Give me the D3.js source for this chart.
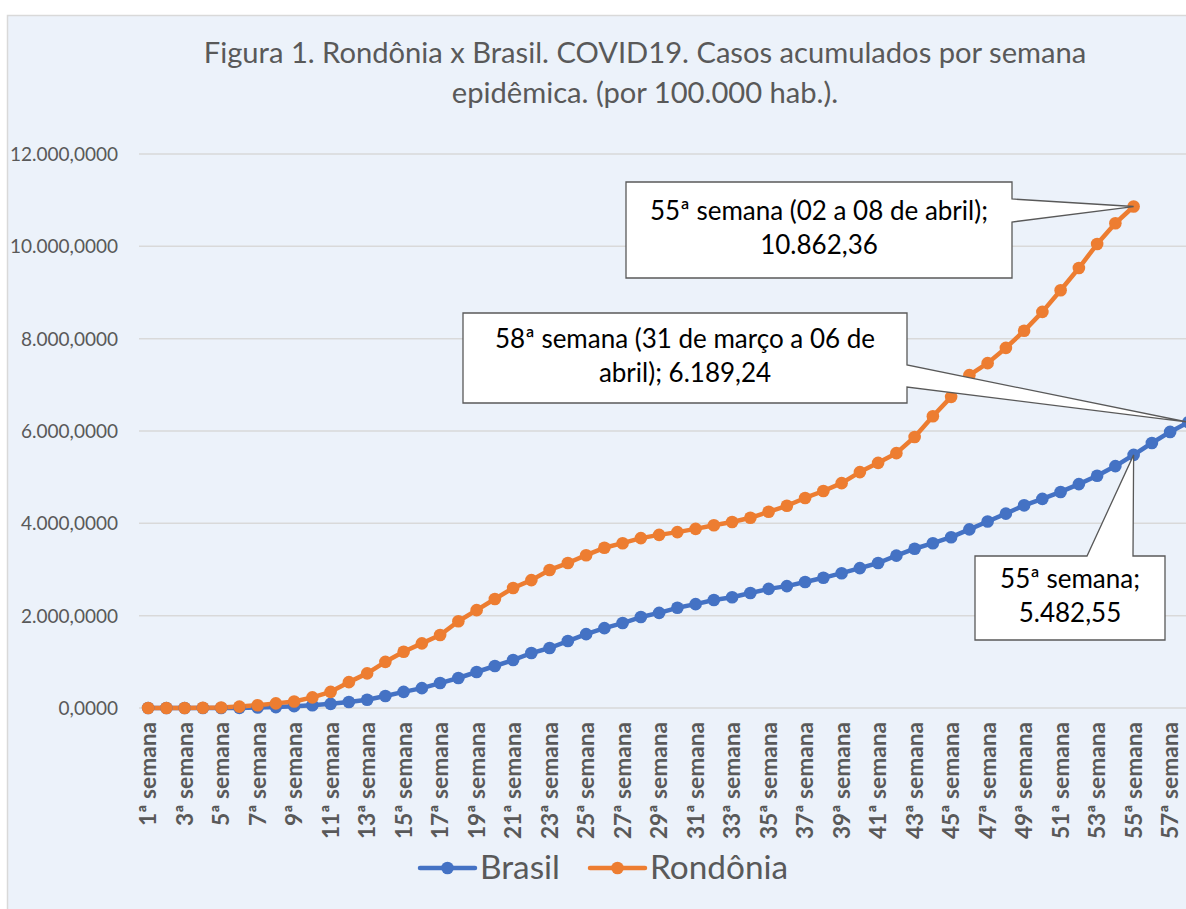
<!DOCTYPE html>
<html><head><meta charset="utf-8">
<script src="https://cdn.jsdelivr.net/npm/d3@7"></script>
<style>html,body{margin:0;padding:0;background:#fff;}svg{display:block;}</style>
</head><body>
<svg id="c" width="1186" height="909"></svg>
<script>
// ---- data ----
const categories = d3.range(1, 59).map(i => i + "ª semana");
const brasil = [0,0,0,0,0,2,10,20,40,60,90,130,180,260,350,430,540,650,780,910,
  1040,1190,1300,1450,1600,1730,1840,1970,2060,2170,2250,2340,2400,2490,2580,2640,2730,2820,2920,3030,
  3140,3300,3450,3570,3700,3870,4040,4210,4390,4530,4680,4850,5030,5240,5482.55,5740,5980,6189.24];
const rondonia = [0,0,0,5,10,30,60,100,140,230,350,560,750,1000,1220,1400,1580,1880,2120,2360,
  2600,2770,2990,3140,3310,3470,3570,3680,3750,3810,3880,3960,4030,4120,4250,4380,4550,4700,4870,5110,
  5310,5520,5870,6320,6740,7210,7470,7800,8170,8580,9050,9530,10050,10500,10862.36];
const yTicks = [0,2000,4000,6000,8000,10000,12000];
const titleLines = ["Figura 1. Rondônia x Brasil. COVID19. Casos acumulados por semana",
                    "epidêmica. (por 100.000 hab.)."];
const seriesNames = ["Brasil", "Rondônia"];
const callouts = [
  {series: 1, index: 54, lines: ["55ª semana (02 a 08 de abril);", "10.862,36"]},
  {series: 0, index: 57, lines: ["58ª semana (31 de março a 06 de", "abril); 6.189,24"]},
  {series: 0, index: 54, lines: ["55ª semana;", "5.482,55"]}
];

// ---- layout ----
const FONT = "Lato, 'Open Sans', sans-serif";
const colors = ["#4472C4", "#ED7D31"];
const svg = d3.select("#c");
svg.append("rect").attr("x", 7.5).attr("y", 15.5).attr("width", 1300).attr("height", 1000)
  .attr("fill", "#ECF2FA").attr("stroke", "#D9D9D9").attr("stroke-width", 1.5);

function fit(sel, target) {
  const n = sel.node(); const fs = parseFloat(sel.attr("font-size"));
  const w = n.getComputedTextLength();
  sel.attr("font-size", fs * target / w);
}

const x = d3.scaleBand().domain(categories).range([139, 139 + 58 * 18.25]);
const cx = c => x(c) + x.bandwidth() / 2;
const y = d3.scaleLinear().domain([0, 12000]).range([708, 154]);
const loc = d3.formatLocale({decimal: ",", thousands: ".", grouping: [3], currency: ["R$", ""]});
const fmt = loc.format(",.4f");

// gridlines
svg.append("g").selectAll("line").data(yTicks).join("line")
  .attr("x1", 139).attr("x2", 1200).attr("y1", d => y(d)).attr("y2", d => y(d))
  .attr("stroke", "#D9D9D9").attr("stroke-width", 1.5);

// y axis
const yAxis = svg.append("g").attr("transform", "translate(126,0)")
  .call(d3.axisLeft(y).tickValues(yTicks).tickFormat(fmt).tickSize(0).tickPadding(8));
yAxis.select(".domain").remove();
yAxis.selectAll("text").attr("font-family", FONT).attr("font-size", 16).attr("fill", "#595959")
  .attr("dy", "0.35em");
yAxis.selectAll("text").each(function(d) {
  if (d === 12000) { fit(d3.select(this), 108); }
});
const yfs = yAxis.selectAll("text").filter(d => d === 12000).attr("font-size");
yAxis.selectAll("text").attr("font-size", yfs);

// x axis
const xAxis = svg.append("g").attr("transform", "translate(0,708)")
  .call(d3.axisBottom(x).tickValues(categories.filter((c, i) => i % 2 === 0)).tickSize(0).tickPadding(0));
xAxis.select(".domain").remove();
xAxis.selectAll("text").attr("font-family", FONT).attr("font-weight", "bold").attr("font-size", 16)
  .attr("fill", "#595959").attr("text-anchor", "end")
  .attr("transform", "translate(0,14) rotate(-90)").attr("x", 0).attr("y", 0).attr("dy", "0.35em");
const xfirst = xAxis.selectAll("text").filter(d => d === categories[0]);
fit(xfirst, 104);
xAxis.selectAll("text").attr("font-size", xfirst.attr("font-size"));

// lines
const data = [brasil, rondonia];
const line = d3.line().x((d, i) => cx(categories[i])).y(d => y(d));
data.forEach((s, k) => {
  svg.append("path").datum(s).attr("d", line).attr("fill", "none")
    .attr("stroke", colors[k]).attr("stroke-width", 4.5).attr("stroke-linejoin", "round");
});
data.forEach((s, k) => {
  svg.append("g").selectAll("circle").data(s).join("circle")
    .attr("cx", (d, i) => cx(categories[i])).attr("cy", d => y(d)).attr("r", 6.3).attr("fill", colors[k]);
});
// redraw orange early points on top (orange drawn last already)

// title
titleLines.forEach((t, i) => {
  const el = svg.append("text").text(t).attr("x", 645).attr("y", 63 + i * 40)
    .attr("text-anchor", "middle").attr("font-family", FONT).attr("font-size", 28).attr("fill", "#595959");
  if (i === 0) fit(el, 883);
});
const tfs = svg.selectAll("text").filter(function(){return this.textContent === titleLines[0];}).attr("font-size");
svg.selectAll("text").filter(function(){return this.textContent === titleLines[1];}).attr("font-size", tfs);

// callouts
const boxes = [
  {x0: 626, y0: 182, x1: 1012, y1: 278, side: "right", a: 199, b: 222, fitw: 338},
  {x0: 463, y0: 313, x1: 907, y1: 403, side: "right", a: 365, b: 387, fitw: 379},
  {x0: 975, y0: 556, x1: 1165, y1: 640, side: "top", a: 1087, b: 1133, fitw: 140}
];
let cfs = null;
callouts.forEach((c, k) => {
  const b = boxes[k];
  const px = cx(categories[c.index]);
  const py = y(data[c.series][c.index]);
  let p;
  if (b.side === "right") {
    p = [[b.x0,b.y0],[b.x1,b.y0],[b.x1,b.a],[px,py],[b.x1,b.b],[b.x1,b.y1],[b.x0,b.y1]];
  } else {
    p = [[b.x0,b.y0],[b.a,b.y0],[px,py],[b.b,b.y0],[b.x1,b.y0],[b.x1,b.y1],[b.x0,b.y1]];
  }
  svg.append("path").attr("d", "M" + p.map(q => q.join(",")).join("L") + "Z")
    .attr("fill", "#fff").attr("stroke", "#595959").attr("stroke-width", 1.3);
  const mx = (b.x0 + b.x1) / 2, my = (b.y0 + b.y1) / 2;
  c.lines.forEach((t, j) => {
    const el = svg.append("text").attr("class", "cl").text(t).attr("x", mx).attr("y", my - 10 + j * 34)
      .attr("text-anchor", "middle").attr("font-family", FONT).attr("font-size", 22).attr("fill", "#000");
    if (k === 0 && j === 0) { fit(el, b.fitw); cfs = el.attr("font-size"); }
  });
});
svg.selectAll("text.cl").attr("font-size", cfs);

// legend
const leg = [{x: 420, tx: 480, w: 80}, {x: 590, tx: 650, w: 142}];
seriesNames.forEach((n, k) => {
  const L = leg[k];
  svg.append("line").attr("x1", L.x).attr("x2", L.x + 55).attr("y1", 868).attr("y2", 868)
    .attr("stroke", colors[k]).attr("stroke-width", 4.5).attr("stroke-linecap", "round");
  svg.append("circle").attr("cx", L.x + 27.5).attr("cy", 868).attr("r", 6.3).attr("fill", colors[k]);
  const el = svg.append("text").attr("class", "lg").text(n).attr("x", L.tx).attr("y", 879)
    .attr("font-family", FONT).attr("font-size", 30).attr("fill", "#595959");
  if (k === 0) fit(el, L.w);
});
const lfs = svg.selectAll("text.lg").filter(function(){return this.textContent==="Brasil";}).attr("font-size");
svg.selectAll("text.lg").attr("font-size", lfs);
</script>
</body></html>
